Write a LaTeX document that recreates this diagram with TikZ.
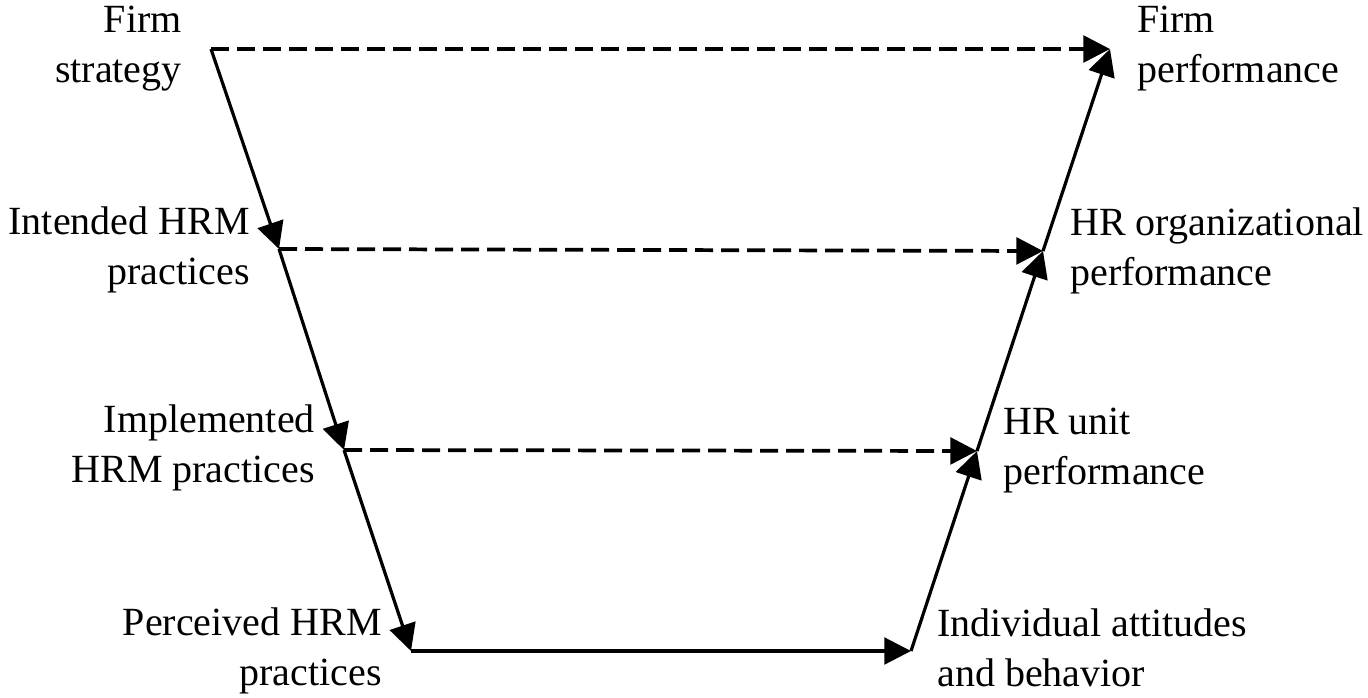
\documentclass[tikz,border=0pt]{standalone}
\usepackage{fontspec}
\setmainfont{Liberation Serif}
\usetikzlibrary{arrows.meta}
\begin{document}
\begin{tikzpicture}[x=0.75pt,y=-0.75pt,
  flow/.style={line width=2.4pt,line join=miter,-{Triangle[length=20pt,width=20pt]}},
  link/.style={flow,line width=2.8pt,dash pattern=on 13.5pt off 6pt},
  lbl/.style={font=\fontsize{30}{37}\selectfont,inner sep=0pt}]
\useasboundingbox (0,0) rectangle (1368,697);

% corner points of the funnel
\coordinate (s0) at (211,49);
\coordinate (s1) at (279,249);
\coordinate (s2) at (344,450);
\coordinate (s3) at (411,651);
\coordinate (p3) at (911,651);
\coordinate (p2) at (977,451);
\coordinate (p1) at (1043,251);
\coordinate (p0) at (1110,49);

% labels, left side (anchored on the baseline of the last line)
\node[lbl,anchor=base east,align=right] (strategy) at (182,82) {Firm\\strategy};
\node[lbl,anchor=base east,align=right] (intended) at (250,284) {Intended HRM\\practices};
\node[lbl,anchor=base east,align=right] (implemented) at (315,482) {Implemented\\HRM practices};
\node[lbl,anchor=base east,align=right] (perceived) at (382,685) {Perceived HRM\\practices};

% labels, right side
\node[lbl,anchor=base west,align=left] (firmperf) at (1137,82) {Firm\\performance};
\node[lbl,anchor=base west,align=left] (orgperf) at (1070,285) {HR organizational\\performance};
\node[lbl,anchor=base west,align=left] (unitperf) at (1003,484) {HR unit\\performance};
\node[lbl,anchor=base west,align=left] (individual) at (937,686) {Individual attitudes\\and behavior};

% solid chain down the left, across the bottom, up the right
\draw[flow] (s0) -- (s1);
\draw[flow] (s1) -- (s2);
\draw[flow] (s2) -- (s3);
\draw[flow] (s3) -- (p3);
\draw[flow] (p3) -- (p2);
\draw[flow] (p2) -- (p1);
\draw[flow] (p1) -- (p0);

% dashed links across
\draw[link] (s0) -- (p0);
\draw[link] (s1) -- (p1);
\draw[link] (s2) -- (p2);
\end{tikzpicture}
\end{document}
